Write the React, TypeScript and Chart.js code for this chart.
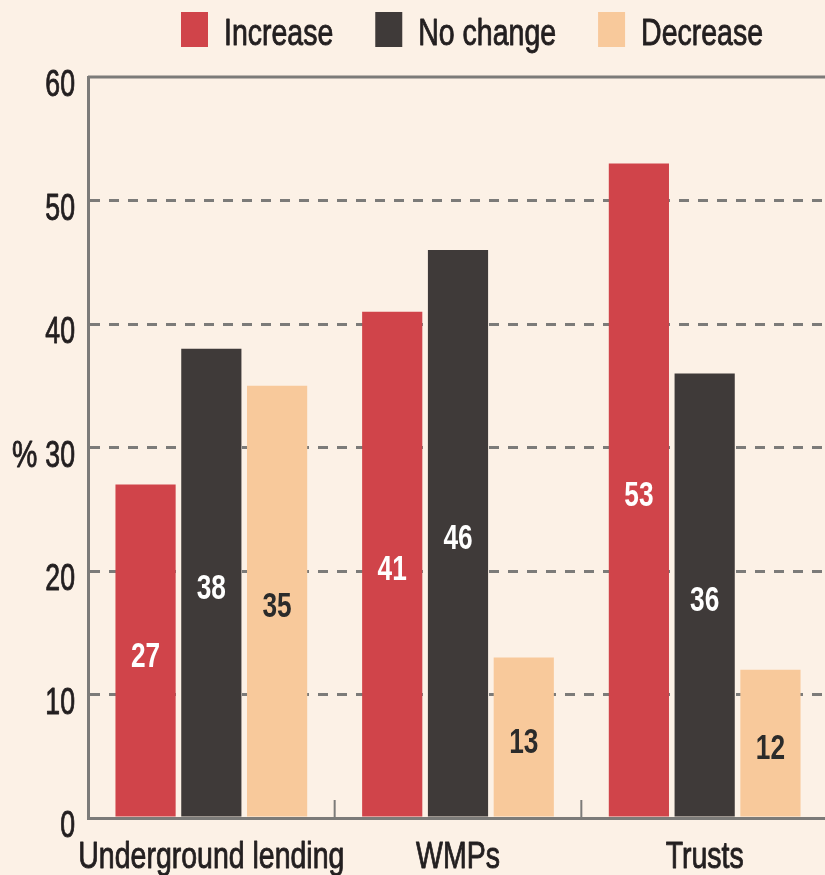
import React, { useEffect, useRef } from "react";
import { Chart, registerables } from "chart.js";

Chart.register(...registerables);

const categories = ["Underground lending", "WMPs", "Trusts"];
const seriesNames = ["Increase", "No change", "Decrease"];
const increase = [27, 41, 53];
const noChange = [38, 46, 36];
const decrease = [35, 13, 12];
const yMin = 0;
const yMax = 60;
const yStep = 10;
const yUnit = "%";

const COLORS = ["#d0444a", "#3f3a39", "#f8c99b"];
const LABEL_COLORS = ["#ffffff", "#ffffff", "#2b2b2b"];
const BG = "#fcf1e6";
const TEXT = "#231f20";
const AXIS = "#7c7b79";
const FONT = '"Liberation Sans", Arial, sans-serif';

// draw horizontally condensed text (emulates a condensed face)
function condText(
  ctx: CanvasRenderingContext2D,
  text: string,
  x: number,
  y: number,
  align: CanvasTextAlign,
  font: string,
  color: string,
  sx: number,
  weightStroke = 0
) {
  ctx.save();
  ctx.font = font;
  ctx.fillStyle = color;
  ctx.textAlign = align;
  ctx.textBaseline = "alphabetic";
  ctx.translate(x, y);
  ctx.scale(sx, 1);
  ctx.fillText(text, 0, 0);
  if (weightStroke > 0) {
    ctx.strokeStyle = color;
    ctx.lineWidth = weightStroke;
    ctx.lineJoin = "round";
    ctx.strokeText(text, 0, 0);
  }
  ctx.restore();
}

const decor = {
  id: "decor",
  beforeDraw(chart: any) {
    const { ctx, width, height } = chart;
    ctx.save();
    ctx.fillStyle = BG;
    ctx.fillRect(0, 0, width, height);
    ctx.restore();
  },
  beforeDatasetsDraw(chart: any) {
    const { ctx, chartArea, scales } = chart;
    const x = scales.x;
    const y = scales.y;
    ctx.save();
    ctx.strokeStyle = AXIS;
    ctx.lineWidth = 3;
    const yt = y.getPixelForValue(yMax);
    ctx.beginPath();
    ctx.moveTo(chartArea.left, yt);
    ctx.lineTo(chartArea.right, yt);
    ctx.stroke();
    const yb = y.getPixelForValue(yMin);
    ctx.lineWidth = 2;
    for (let i = 1; i < categories.length; i++) {
      const xp = (x.getPixelForValue(i - 1) + x.getPixelForValue(i)) / 2;
      ctx.beginPath();
      ctx.moveTo(xp, yb);
      ctx.lineTo(xp, yb - 18);
      ctx.stroke();
    }
    ctx.restore();
  },
  afterDatasetsDraw(chart: any) {
    const { ctx } = chart;
    chart.data.datasets.forEach((ds: any, di: number) => {
      const meta = chart.getDatasetMeta(di);
      meta.data.forEach((bar: any, i: number) => {
        const v = ds.data[i];
        condText(
          ctx,
          String(v),
          bar.x,
          (bar.y + bar.base) / 2 + 16,
          "center",
          `bold 35px ${FONT}`,
          LABEL_COLORS[di],
          0.75
        );
      });
    });
  },
  afterDraw(chart: any) {
    const { ctx, chartArea, scales } = chart;
    const x = scales.x;
    const y = scales.y;
    const font = `37px ${FONT}`;
    const heavy = 0.9;
    // y tick labels
    y.ticks.forEach((t: any) => {
      const py = y.getPixelForValue(t.value);
      condText(ctx, String(t.value), chartArea.left - 13, py + 19, "right", font, TEXT, 0.72, heavy);
    });
    // unit label
    condText(ctx, yUnit, 12, y.getPixelForValue(30) + 19, "left", font, TEXT, 0.77, heavy);
    // x category labels
    categories.forEach((c, i) => {
      condText(ctx, c, x.getPixelForValue(i), 868, "center", font, TEXT, 0.77, heavy);
    });
    // legend
    const sx = 0.77;
    ctx.save();
    ctx.font = font;
    const widths = seriesNames.map((n) => ctx.measureText(n).width * sx);
    ctx.restore();
    const boxW = 27;
    const boxH = 35;
    const gapBoxText = 16;
    const gapItems = 42;
    const total =
      widths.reduce((a, b) => a + b, 0) +
      seriesNames.length * (boxW + gapBoxText) +
      (seriesNames.length - 1) * gapItems;
    let xx = 472 - total / 2;
    const top = 12;
    seriesNames.forEach((n, i) => {
      ctx.save();
      ctx.fillStyle = COLORS[i];
      ctx.fillRect(xx, top, boxW, boxH);
      ctx.restore();
      xx += boxW + gapBoxText;
      condText(ctx, n, xx, 45, "left", font, TEXT, sx, heavy);
      xx += widths[i] + gapItems;
    });
  },
};

export default function App() {
  const ref = useRef<HTMLCanvasElement | null>(null);
  useEffect(() => {
    if (!ref.current) return;
    const values = [increase, noChange, decrease];
    const chart = new Chart(ref.current, {
      type: "bar",
      data: {
        labels: categories,
        datasets: seriesNames.map((name, i) => ({
          label: name,
          data: values[i],
          backgroundColor: COLORS[i],
          borderWidth: 0,
          categoryPercentage: 0.8,
          barPercentage: 0.915,
        })),
      },
      options: {
        responsive: false,
        animation: false,
        devicePixelRatio: 1,
        layout: { padding: { top: 77, left: 0, right: 0, bottom: 0 } },
        plugins: {
          legend: { display: false },
          tooltip: { enabled: false },
          title: { display: false },
        },
        scales: {
          x: {
            afterFit: (scale: any) => {
              scale.height = 57;
            },
            grid: { display: false, drawTicks: false },
            border: { display: true, color: AXIS, width: 3 },
            ticks: { display: false },
          },
          y: {
            min: yMin,
            max: yMax,
            afterFit: (scale: any) => {
              scale.width = 88;
            },
            grid: {
              drawTicks: false,
              lineWidth: 3,
              color: (c: any) =>
                c.tick && (c.tick.value === yMin || c.tick.value === yMax)
                  ? "rgba(0,0,0,0)"
                  : AXIS,
            },
            border: { display: true, color: AXIS, width: 3, dash: [10, 9] },
            ticks: { display: false, stepSize: yStep },
          },
        },
      },
      plugins: [decor],
    });
    return () => chart.destroy();
  }, []);
  return (
    <div
      style={{
        position: "fixed",
        left: 0,
        top: 0,
        width: 828,
        height: 875,
        background: BG,
      }}
    >
      <canvas ref={ref} width={828} height={875} style={{ display: "block" }} />
    </div>
  );
}
